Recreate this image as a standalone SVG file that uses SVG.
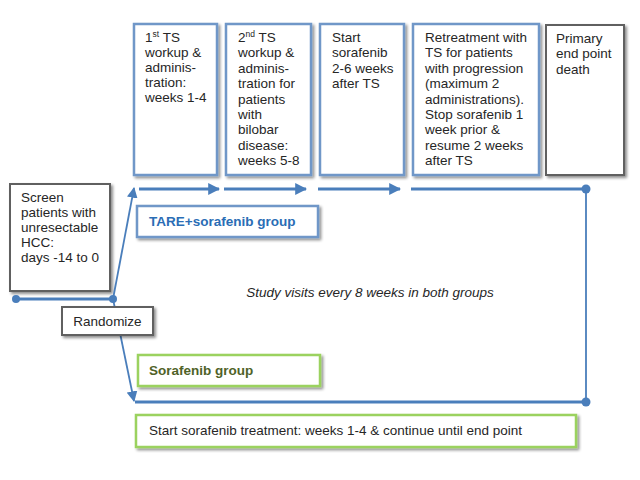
<svg xmlns="http://www.w3.org/2000/svg" width="640" height="480" viewBox="0 0 640 480">
<defs>
<filter id="sh" x="-20%" y="-20%" width="140%" height="140%">
<feGaussianBlur in="SourceAlpha" stdDeviation="1.5"/>
<feOffset dx="2" dy="2" result="o"/>
<feComponentTransfer><feFuncA type="linear" slope="0.45"/></feComponentTransfer>
<feMerge><feMergeNode/><feMergeNode in="SourceGraphic"/></feMerge>
</filter>
<marker id="ah" viewBox="0 0 10 10" refX="9" refY="5" markerWidth="4" markerHeight="4" orient="auto" markerUnits="strokeWidth">
<path d="M0,0 L10,5 L0,10 z" fill="#4a7ebb"/>
</marker>
<marker id="ah2" viewBox="0 0 10 10" refX="9" refY="5" markerWidth="6" markerHeight="6" orient="auto" markerUnits="strokeWidth">
<path d="M0,0 L10,5 L0,10 z" fill="#4a7ebb"/>
</marker>
</defs>
<style>
text{font-family:"Liberation Sans",Arial,sans-serif;font-size:13.5px;fill:#262626}
.bb{fill:#fff;stroke:#6f97c8;stroke-width:2.5;filter:url(#sh)}
.gb{fill:#fff;stroke:#606060;stroke-width:2;filter:url(#sh)}
.grn{fill:#fff;stroke:#9bd25f;stroke-width:2.5;filter:url(#sh)}
.ln{stroke:#4a7ebb;stroke-width:3;fill:none}
.th{stroke:#4a7ebb;stroke-width:1.8;fill:none}
.dot{fill:#4a7ebb}
</style>
<rect width="640" height="480" fill="#fff"/>

<g id="box1">
<rect class="bb" x="134" y="24" width="83" height="151"/>
<text x="145" y="42">1<tspan font-size="8.5px" dy="-5">st</tspan><tspan dy="5"> TS</tspan></text>
<text x="145" y="57">workup &amp;</text>
<text x="145" y="72">adminis-</text>
<text x="145" y="87">tration:</text>
<text x="145" y="102">weeks 1-4</text>
</g>
<g id="box2">
<rect class="bb" x="226" y="24" width="85" height="151"/>
<text x="238" y="42">2<tspan font-size="8.5px" dy="-5">nd</tspan><tspan dy="5"> TS</tspan></text>
<text x="238" y="57.4">workup &amp;</text>
<text x="238" y="72.8">adminis-</text>
<text x="238" y="88.2">tration for</text>
<text x="238" y="103.6">patients</text>
<text x="238" y="119">with</text>
<text x="238" y="134.4">bilobar</text>
<text x="238" y="149.8">disease:</text>
<text x="238" y="165.2">weeks 5-8</text>
</g>
<g id="box3">
<rect class="bb" x="320" y="24" width="84" height="151"/>
<text x="332" y="42">Start</text>
<text x="332" y="57.4">sorafenib</text>
<text x="332" y="72.8">2-6 weeks</text>
<text x="332" y="88.2">after TS</text>
</g>
<g id="box4">
<rect class="bb" x="413" y="24" width="126" height="151"/>
<text x="425" y="42">Retreatment with</text>
<text x="425" y="57.4">TS for patients</text>
<text x="425" y="72.8">with progression</text>
<text x="425" y="88.2">(maximum 2</text>
<text x="425" y="103.6">administrations).</text>
<text x="425" y="119">Stop sorafenib 1</text>
<text x="425" y="134.4">week prior &amp;</text>
<text x="425" y="149.8">resume 2 weeks</text>
<text x="425" y="165.2">after TS</text>
</g>
<g id="box5">
<rect class="gb" x="546" y="25" width="78" height="150"/>
<text x="556" y="43">Primary</text>
<text x="556" y="58.4">end point</text>
<text x="556" y="73.8">death</text>
</g>
<g id="screen">
<rect class="gb" x="10" y="184" width="100" height="107"/>
<text x="21" y="202">Screen</text>
<text x="21" y="217">patients with</text>
<text x="21" y="232">unresectable</text>
<text x="21" y="247">HCC:</text>
<text x="21" y="262">days -14 to 0</text>
</g>

<g id="connectors">
<line class="ln" x1="16" y1="299" x2="113" y2="299"/>
<circle class="dot" cx="16" cy="299" r="4"/>
<circle class="dot" cx="113" cy="299" r="4"/>
<line class="th" x1="113" y1="299" x2="134" y2="188" marker-end="url(#ah2)"/>
<line class="th" x1="113" y1="299" x2="134" y2="401" marker-end="url(#ah2)"/>
<line class="ln" x1="139" y1="189" x2="219" y2="189" marker-end="url(#ah)"/>
<line class="ln" x1="224" y1="189" x2="306" y2="189" marker-end="url(#ah)"/>
<line class="ln" x1="318" y1="189" x2="400" y2="189" marker-end="url(#ah)"/>
<line class="ln" x1="411" y1="189" x2="586" y2="189"/>
<circle class="dot" cx="586" cy="189" r="4.5"/>
<line class="th" x1="586" y1="189" x2="586" y2="402"/>
<line class="ln" x1="135" y1="402" x2="586" y2="402"/>
<circle class="dot" cx="586" cy="402" r="4.5"/>
</g>

<g id="randomize">
<rect class="gb" x="62" y="307" width="91" height="28"/>
<text x="107.5" y="326" text-anchor="middle">Randomize</text>
</g>
<g id="tare">
<rect class="bb" x="137" y="206" width="181" height="31"/>
<text x="149" y="226" font-weight="bold" style="fill:#2a6db5">TARE+sorafenib group</text>
</g>
<g id="visits">
<text x="370" y="297" text-anchor="middle" font-style="italic">Study visits every 8 weeks in both groups</text>
</g>
<g id="sorafenib">
<rect class="grn" x="138" y="355" width="182" height="31"/>
<text x="149" y="375" font-weight="bold" style="fill:#4f6228">Sorafenib group</text>
</g>
<g id="start">
<rect class="grn" x="136" y="415" width="440" height="32"/>
<text x="149" y="435">Start sorafenib treatment: weeks 1-4 &amp; continue until end point</text>
</g>
</svg>
